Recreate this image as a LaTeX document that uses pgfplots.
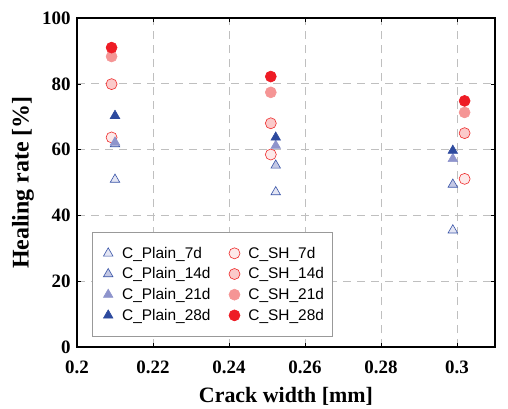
\documentclass[border=0pt]{standalone}
\usepackage{fontspec}
\setmainfont{Liberation Serif}
\newfontfamily\legfont{Liberation Sans}
\usepackage{pgfplots}
\pgfplotsset{compat=1.18}
\definecolor{pedge}{HTML}{3A55A8}
\definecolor{pf7}{HTML}{E4E6F4}
\definecolor{pf14}{HTML}{C4C8E4}
\definecolor{pf21}{HTML}{8E94CC}
\definecolor{pf28}{HTML}{2D4A9E}
\definecolor{sedge}{HTML}{EE2A2A}
\definecolor{sf7}{HTML}{FDE9E9}
\definecolor{sf14}{HTML}{FBCACA}
\definecolor{sf21}{HTML}{F59595}
\definecolor{sf28}{HTML}{EE1C25}
\begin{document}
\begin{tikzpicture}
\begin{axis}[
  name=ax,
  scale only axis, width=418bp, height=329bp,
  xmin=0.2, xmax=0.31, ymin=0, ymax=100,
  xtick={0.2,0.22,0.24,0.26,0.28,0.3},
  xticklabels={0.2,0.22,0.24,0.26,0.28,0.3},
  ytick={0,20,40,60,80,100},
  /pgf/number format/assume math mode=true,
  ticklabel style={font=\fontsize{19}{21}\selectfont\bfseries},
  xticklabel style={yshift=-10bp},
  yticklabel style={xshift=-3bp},
  xlabel={Crack width [mm]}, ylabel={Healing rate [\%]},
  xlabel style={font=\fontsize{22}{24}\selectfont\bfseries, at={(axis description cs:0.5,-49/329)}, anchor=center},
  ylabel style={font=\fontsize{24}{26}\selectfont\bfseries, at={(axis description cs:-54/418,0.5)}, anchor=center},
  axis line style={line width=1.4pt},
  tick style={black, line width=0.4pt},
  tick align=inside, major tick length=4bp,
  grid=major, grid style={black!25, dash pattern=on 8bp off 6bp, line width=0.7pt},
  legend columns=2,
  legend style={at={(15/418,10/329)}, anchor=south west, draw=gray!80, line width=0.6pt,
    font=\legfont\fontsize{15.5}{18}\selectfont, row sep=4bp,
    inner xsep=6bp, inner ysep=13bp,
    nodes={inner sep=2bp},
    /tikz/every odd column/.append style={column sep=2bp},
    /tikz/every even column/.append style={column sep=12bp}},
  legend image code/.code={\path[draw=none,fill=none] (0cm,0cm) rectangle (0.7cm,0cm); \draw[#1] plot coordinates {(0.35cm,0cm)};},
  legend cell align=left,
]
\addplot[only marks, mark=triangle*, mark size=5.5bp, mark options={draw=pedge, fill=pf7, line width=0.6pt}] coordinates {(0.2100,50.9) (0.2523,47.1) (0.2989,35.5)};
\addlegendentry{C\_Plain\_7d}
\addplot[only marks, mark=*, mark size=5.5bp, mark options={draw=sedge, fill=sf7, line width=0.6pt}] coordinates {(0.2091,63.7) (0.2510,58.5) (0.3020,51.1)};
\addlegendentry{C\_SH\_7d}
\addplot[only marks, mark=triangle*, mark size=5.5bp, mark options={draw=pedge, fill=pf14, line width=0.6pt}] coordinates {(0.2100,61.7) (0.2523,55.2) (0.2989,49.4)};
\addlegendentry{C\_Plain\_14d}
\addplot[only marks, mark=*, mark size=5.5bp, mark options={draw=sedge, fill=sf14, line width=0.6pt}] coordinates {(0.2091,79.9) (0.2510,68.0) (0.3020,65.0)};
\addlegendentry{C\_SH\_14d}
\addplot[only marks, mark=triangle*, mark size=5.5bp, mark options={draw=pf21, fill=pf21, line width=0.6pt}] coordinates {(0.2100,62.2) (0.2523,61.2) (0.2989,57.2)};
\addlegendentry{C\_Plain\_21d}
\addplot[only marks, mark=*, mark size=5.5bp, mark options={draw=sf21, fill=sf21, line width=0.6pt}] coordinates {(0.2091,88.3) (0.2510,77.4) (0.3020,71.3)};
\addlegendentry{C\_SH\_21d}
\addplot[only marks, mark=triangle*, mark size=5.5bp, mark options={draw=pf28, fill=pf28, line width=0.6pt}] coordinates {(0.2100,70.3) (0.2523,63.7) (0.2989,59.7)};
\addlegendentry{C\_Plain\_28d}
\addplot[only marks, mark=*, mark size=5.5bp, mark options={draw=sf28, fill=sf28, line width=0.6pt}] coordinates {(0.2091,91.0) (0.2510,82.2) (0.3020,74.8)};
\addlegendentry{C\_SH\_28d}
\end{axis}
\path (ax.south west) ++(-77bp,-60bp);
\path (ax.north east) ++(13bp,18bp);
\end{tikzpicture}
\end{document}
